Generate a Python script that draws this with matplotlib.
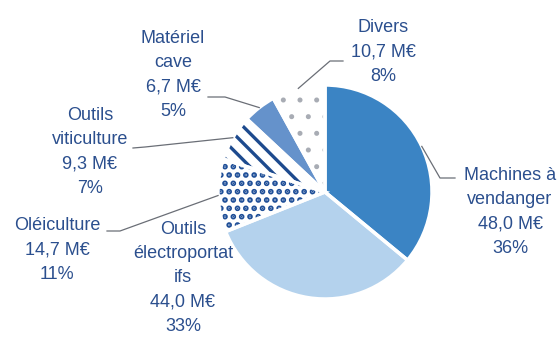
import numpy as np
import matplotlib
matplotlib.use('Agg')
import matplotlib.pyplot as plt

# Chiffre d'affaires par famille de matériel
labels = ['Machines à\nvendanger', 'Outils\nélectroportat\nifs', 'Oléiculture',
          'Outils\nviticulture', 'Matériel\ncave', 'Divers']
values = [48.0, 44.0, 14.7, 9.3, 6.7, 10.7]
shares = [36, 33, 11, 7, 5, 8]

fills = ['#3b84c4', '#b4d2ed', 'white', 'white', '#6592cb', 'white']
hatches = [None, None, '..', '\\\\', None, '.']
hatch_cols = ['none', 'none', '#1f4f98', '#1d4a8e', 'none', '#a8acb4']
hatch_lw = [1, 1, 2.8, 2.4, 1, 1.2]

# label centres and leader elbows, in pixels from the top-left corner
text_pos = [(510, 212), (183, 278), (57, 250), (90, 152), (173, 75), (383, 52)]
elbows = [[(440, 178), (455, 178)], None, [(120, 231), (107, 231)],
          [(145, 147), (133, 148)], [(225, 97), (208, 97)],
          [(330, 61), (343, 61)]]

W, H = 560, 338
cx, cy, R = 325, H - 192, 107
txt_col = '#2b4f8e'
fs = 13

plt.rcParams['font.family'] = ['Liberation Sans', 'DejaVu Sans']
fig = plt.figure(figsize=(5.6, 3.38), dpi=100)
ax = fig.add_axes([0, 0, 1, 1])

kw = dict(startangle=90, counterclock=False, center=(cx, cy), radius=R)
# solid fills
wedges, _ = ax.pie(values, colors=fills, wedgeprops=dict(linewidth=0), **kw)
# hatched overlay
over, _ = ax.pie(values, colors=['none'] * 6, wedgeprops=dict(linewidth=0), **kw)
for w, h, c, lw in zip(over, hatches, hatch_cols, hatch_lw):
    w.set_facecolor('none')
    w.set_edgecolor(c)
    if h:
        w.set_hatch(h)
        w.set_hatch_linewidth(lw)
# white gaps between slices
ax.pie(values, colors=['none'] * 6,
       wedgeprops=dict(linewidth=2.5, edgecolor='white', fill=False), **kw)

ax.set_xlim(0, W)
ax.set_ylim(0, H)
ax.set_aspect('equal')
ax.axis('off')

for w, lab, v, s, (tx, ty), el in zip(wedges, labels, values, shares, text_pos, elbows):
    ax.text(tx, H - ty, '%s\n%s M€\n%d%%' % (lab, ('%.1f' % v).replace('.', ','), s),
            ha='center', va='center', fontsize=fs, color=txt_col, linespacing=1.55)
    if el is None:
        continue
    mid = np.deg2rad((w.theta1 + w.theta2) / 2)
    xs = [cx + R * np.cos(mid)] + [p[0] for p in el]
    ys = [cy + R * np.sin(mid)] + [H - p[1] for p in el]
    ax.plot(xs, ys, color='#6a6e76', lw=0.9)

fig.savefig('out.png', dpi=100)
